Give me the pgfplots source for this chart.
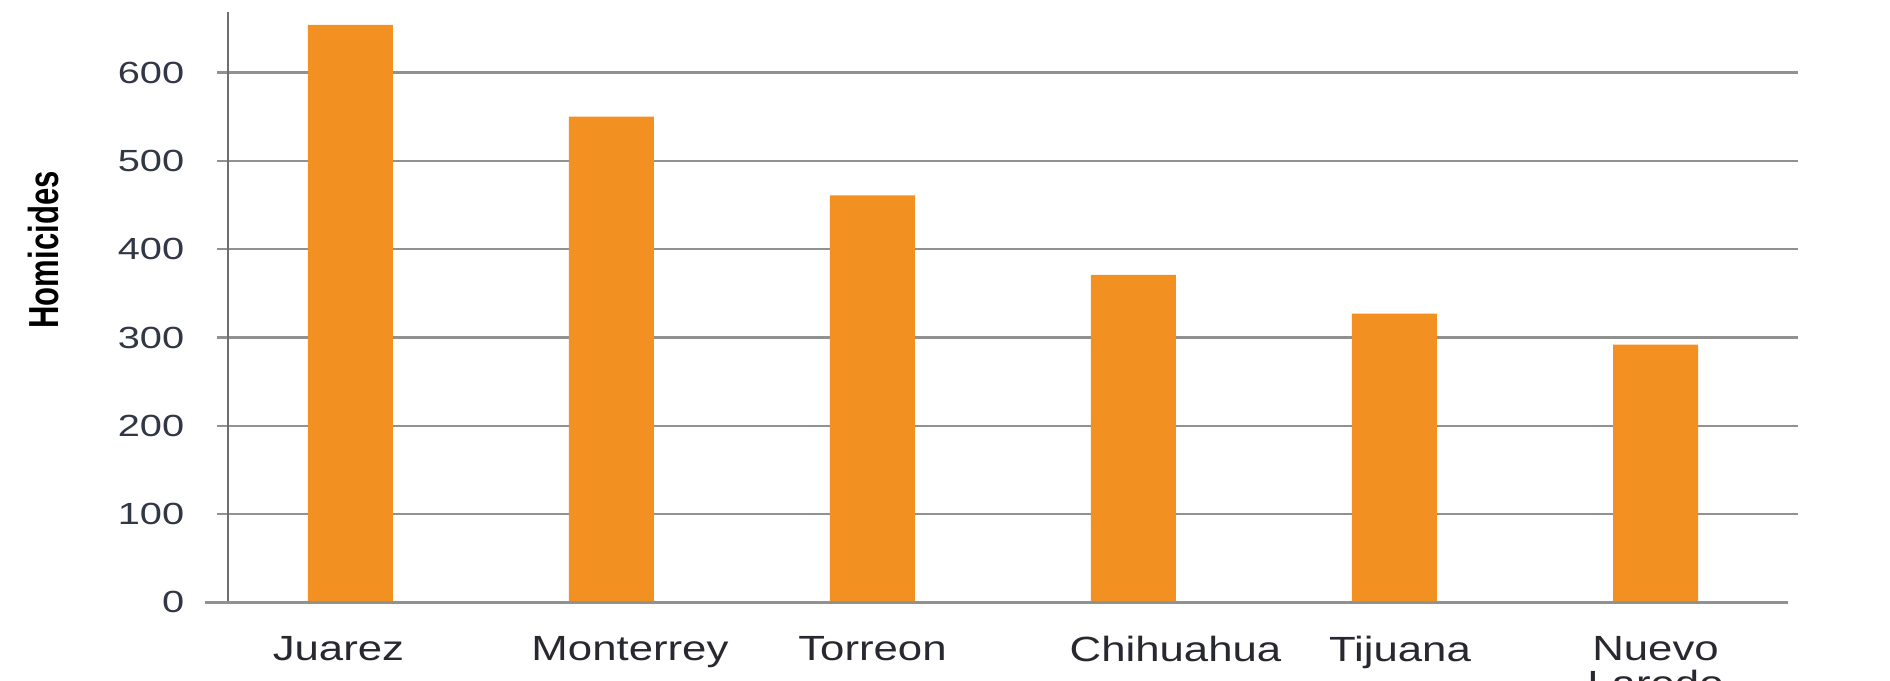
\documentclass[border=0pt]{standalone}
\usepackage{fontspec}
\setmainfont{Liberation Sans}
\newfontfamily\tickfont[FakeStretch=1.3]{Liberation Sans}
\newfontfamily\labfont[FakeStretch=1.25]{Liberation Sans}
\newfontfamily\ylabfont[FakeStretch=0.74]{Liberation Sans}
\usepackage{pgfplots}
\pgfplotsset{compat=1.18}
\definecolor{barorange}{RGB}{243,144,34}
\definecolor{gridgray}{RGB}{145,145,145}
\definecolor{axgray}{RGB}{110,110,110}
\definecolor{ticktext}{RGB}{50,55,70}
\definecolor{labtext}{RGB}{40,40,48}
\begin{document}
\begin{tikzpicture}
\begin{axis}[
  at={(114pt,38.8pt)}, anchor=south west,
  scale only axis,
  width=785pt, height=295.2pt,
  xmin=-0.469, xmax=5.546,
  ymin=0, ymax=668.6,
  axis x line*=bottom,
  x axis line style={draw=none},
  xtick={-0.046,1.071,2,3.161,4.021,5},
  xticklabels={Juarez,Monterrey,Torreon,Chihuahua,Tijuana,{Nuevo\\Laredo}},
  xtick style={draw=none},
  xticklabel style={font=\labfont\fontsize{17.5}{17.5}\selectfont, text=labtext, anchor=north, align=center, inner sep=0pt, yshift=-11pt},
  axis y line*=left,
  y axis line style={draw=axgray, line width=1.3pt, -},
  ytick={100,200,300,400,500,600},
  extra y ticks={0},
  extra y tick style={grid=none, ytick style={draw=none}},
  ymajorgrids,
  major grid style={draw=gridgray, line width=1.2pt},
  tick align=outside,
  major tick length=5.7pt,
  ytick style={draw=gridgray, line width=1.2pt},
  /pgf/number format/assume math mode=true,
  yticklabel style={font=\tickfont\fontsize{15.3}{17}\selectfont, text=ticktext, anchor=east, inner sep=0pt, xshift=-16pt},
  ylabel={Homicides},
  ylabel style={font=\ylabfont\bfseries\fontsize{21}{24}\selectfont, text=black, at={(axis description cs:-0.1176,0.597)}, anchor=center},
  clip=false,
]
\addplot[ybar, bar width=42.5pt, fill=barorange, draw=none] coordinates {
  (0,654) (1,550) (2,461) (3,371) (4,327) (5,292)
};
\draw[draw=gridgray, line width=1.3pt] (axis cs:-0.557,0) -- (axis cs:5.508,0);
\end{axis}
\pgfresetboundingbox
\path (0,0) rectangle (945pt,340pt);
\end{tikzpicture}
\end{document}
